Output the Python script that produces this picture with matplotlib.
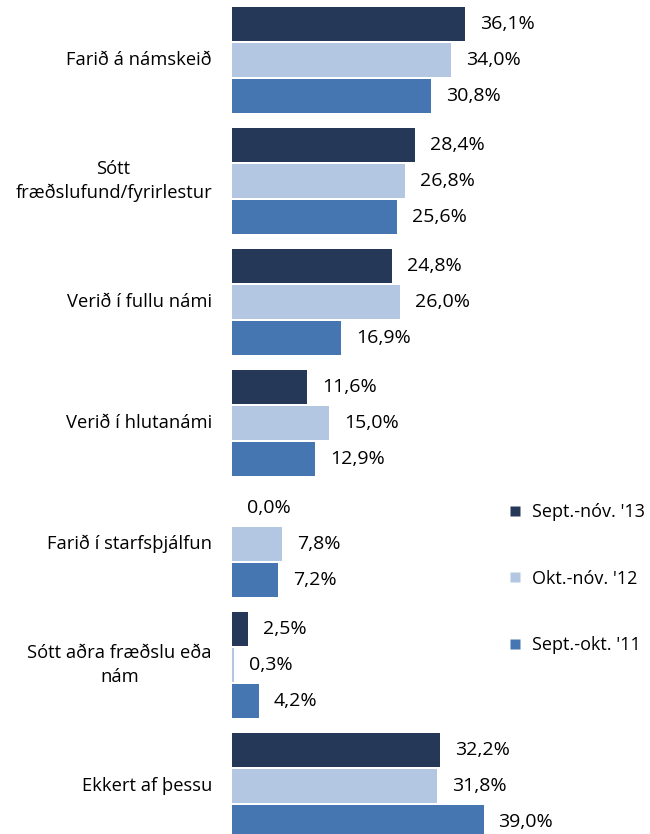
import matplotlib
matplotlib.use("Agg")
import matplotlib.pyplot as plt
from matplotlib.lines import Line2D

plt.rcParams['font.family'] = ['Open Sans', 'DejaVu Sans']

categories = [
    "Farið á námskeið",
    "Sótt\nfræðslufund/fyrirlestur",
    "Verið í fullu námi",
    "Verið í hlutanámi",
    "Farið í starfsþjálfun",
    "Sótt aðra fræðslu eða\nnám",
    "Ekkert af þessu",
]
series_names = ["Sept.-nóv. '13", "Okt.-nóv. '12", "Sept.-okt. '11"]
s13 = [36.1, 28.4, 24.8, 11.6, 0.0, 2.5, 32.2]
s12 = [34.0, 26.8, 26.0, 15.0, 7.8, 0.3, 31.8]
s11 = [30.8, 25.6, 16.9, 12.9, 7.2, 4.2, 39.0]
colors = ["#253858", "#b4c7e2", "#4676b1"]

W, H = 650, 834
fig = plt.figure(figsize=(W / 100, H / 100), dpi=100)
left_px = 232
ax = fig.add_axes([left_px / W, 0, 1 - left_px / W, 1])

px_per_unit = 36.0
group_pitch = 121.0 / px_per_unit
first_center = 24.0 / px_per_unit
bar_h = 34.0 / px_per_unit
px_per_pct = 6.45
xmax = (W - left_px) / px_per_pct

fs_cat = 13.2
fs_val = 14
fs_leg = 13
for j, (vals, col) in enumerate(zip([s13, s12, s11], colors)):
    ys = [first_center + group_pitch * i + j for i in range(len(categories))]
    ax.barh(ys, vals, height=bar_h, color=col, edgecolor='none')
    for y, v in zip(ys, vals):
        ax.text(v + 15 / px_per_pct, y, f"{v:.1f}%".replace('.', ','),
                va='center', ha='left', fontsize=fs_val, color='black')

for i, cat in enumerate(categories):
    yc = first_center + group_pitch * i + 1
    ax.text(-20 / px_per_pct, yc, cat, ha='right', va='center',
            multialignment='center', fontsize=fs_cat, color='black',
            linespacing=1.4)

ax.set_xlim(0, xmax)
ax.set_ylim(H / px_per_unit, 0)
ax.axis('off')

handles = [Line2D([0], [0], marker='s', linestyle='none', markersize=7.5,
                  markerfacecolor=c, markeredgecolor='none') for c in colors]
leg = fig.legend(handles, series_names, loc='upper left',
                 bbox_to_anchor=(508 / W, 1 - 503 / H), frameon=False,
                 fontsize=fs_leg, labelspacing=2.7, handlelength=0.8,
                 handletextpad=0.55, borderaxespad=0, borderpad=0)

fig.savefig("out.png", dpi=100)
